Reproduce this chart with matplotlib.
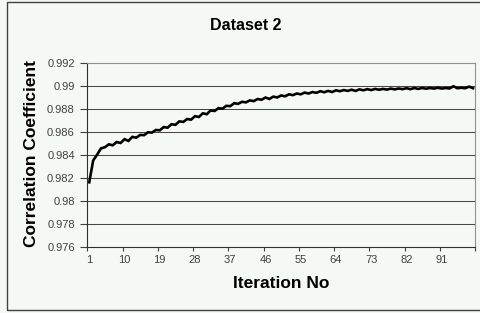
import matplotlib.pyplot as plt
from matplotlib.patches import Rectangle
from matplotlib.ticker import FixedLocator

# correlation coefficient per iteration
iterations = list(range(1, 100))
corr = [
    0.98160, 0.98350, 0.98400, 0.98455, 0.98465, 0.98490, 0.98482, 0.98510, 0.98502, 0.98535,
    0.98520, 0.98555, 0.98548, 0.98572, 0.98570, 0.98595, 0.98592, 0.98615, 0.98612, 0.98640,
    0.98635, 0.98665, 0.98660, 0.98690, 0.98685, 0.98710, 0.98705, 0.98735, 0.98728, 0.98760,
    0.98752, 0.98785, 0.98780, 0.98805, 0.98800, 0.98825, 0.98822, 0.98848, 0.98842, 0.98860,
    0.98855, 0.98872, 0.98866, 0.98884, 0.98878, 0.98897, 0.98885, 0.98905, 0.98898, 0.98915,
    0.98908, 0.98925, 0.98918, 0.98932, 0.98925, 0.98940, 0.98932, 0.98945, 0.98938, 0.98952,
    0.98943, 0.98955, 0.98945, 0.98960, 0.98952, 0.98962, 0.98955, 0.98965, 0.98955, 0.98968,
    0.98960, 0.98970, 0.98962, 0.98972, 0.98965, 0.98972, 0.98966, 0.98975, 0.98968, 0.98976,
    0.98970, 0.98978, 0.98970, 0.98980, 0.98972, 0.98980, 0.98974, 0.98980, 0.98975, 0.98982,
    0.98975, 0.98980, 0.98976, 0.98995, 0.98978, 0.98982, 0.98978, 0.98992, 0.98978,
]
x_labels = [1, 10, 19, 28, 37, 46, 55, 64, 73, 82, 91]
y_ticks = [0.976, 0.978, 0.98, 0.982, 0.984, 0.986, 0.988, 0.99, 0.992]

bg = "#f4f9f6"
plt.rcParams["font.family"] = ["Liberation Sans", "DejaVu Sans"]

fig = plt.figure(figsize=(4.8, 3.13), dpi=100, facecolor=bg)
ax = fig.add_axes([87.3 / 480, 1 - 246.7 / 313, (475 - 87.3) / 480, 184 / 313])
ax.set_facecolor(bg)

# outer chart frame
fig.patches.append(Rectangle((6.5 / 480, 1 - 309.5 / 313), 480 / 480, 308 / 313,
                             transform=fig.transFigure, fill=False,
                             edgecolor="#404040", lw=1.0))

ax.plot(iterations, corr, color="black", lw=1.9, solid_joinstyle="miter")

ax.set_xlim(0.5, 99.5)
ax.set_ylim(0.976, 0.992)

# gridlines
for v in y_ticks[1:-1]:
    ax.axhline(v, color="#484848", lw=0.75, zorder=0)

ax.set_yticks(y_ticks)
ax.set_yticklabels(["%g" % v for v in y_ticks])
ax.set_xticks(x_labels)
ax.set_xticklabels([str(v) for v in x_labels])
ax.xaxis.set_minor_locator(FixedLocator([0.5 + 9 * k for k in range(11)] + [99.5]))
ax.tick_params(axis="x", which="major", length=0, pad=6, labelsize=8, labelcolor="#404040")
ax.tick_params(axis="x", which="minor", length=3, width=0.8, color="#404040")
ax.tick_params(axis="y", length=5, width=0.8, color="#404040", pad=4,
               labelsize=8, labelcolor="#404040")

for side in ["top", "right"]:
    ax.spines[side].set_color("#909090")
    ax.spines[side].set_linewidth(0.8)
for side in ["left", "bottom"]:
    ax.spines[side].set_color("#303030")
    ax.spines[side].set_linewidth(0.8)

fig.text(246 / 480, 1 - 25 / 313, "Dataset 2", ha="center", va="center",
         fontsize=11.5, fontweight="bold")
fig.text(281 / 480, 1 - 283 / 313, "Iteration No", ha="center", va="center",
         fontsize=12.5, fontweight="bold")
fig.text(32 / 480, 1 - 154 / 313, "Correlation Coefficient", ha="center", va="center",
         rotation=90, fontsize=12.5, fontweight="bold")

fig.savefig("out.png", dpi=100, facecolor=bg)
